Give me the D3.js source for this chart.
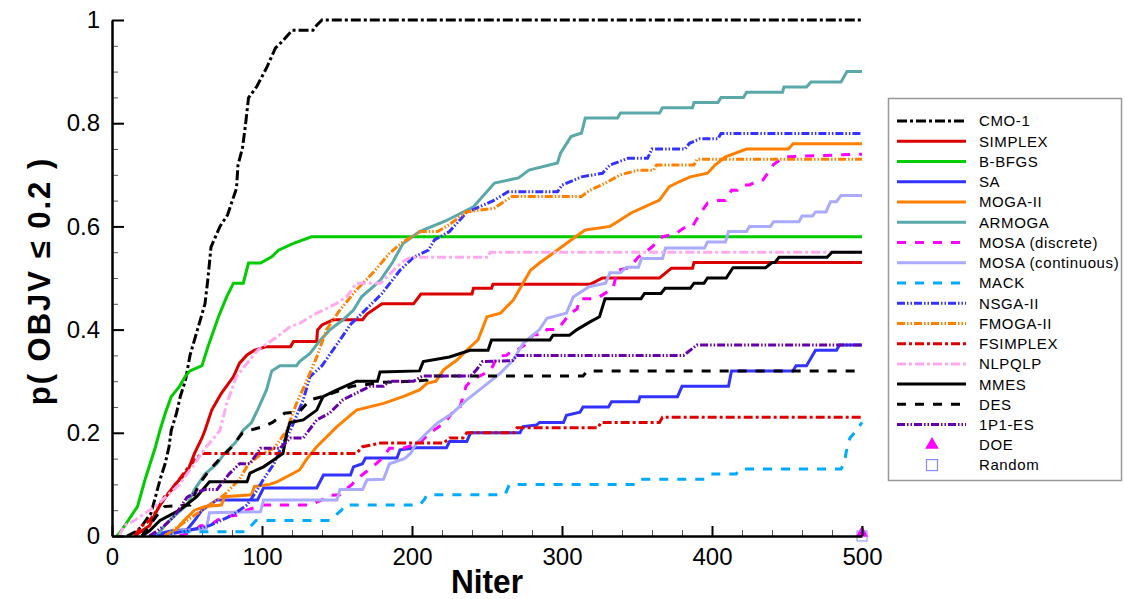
<!DOCTYPE html>
<html>
<head>
<meta charset="utf-8">
<script src="https://cdnjs.cloudflare.com/ajax/libs/d3/7.8.5/d3.min.js"></script>
<style>
  body { margin: 0; background: #fff; }
  svg { display: block; font-family: "Liberation Sans", Arial, sans-serif; }
</style>
</head>
<body>
<svg id="chart" width="1125" height="599"></svg>
<script>
// [Niter, p] breakpoints
const cmo1 = [[10,0],[17,0.01],[20,0.02],[26,0.044],[29,0.076],[32,0.109],[35.5,0.141],[38,0.173],[39.5,0.205],[43,0.238],[45.5,0.27],[49,0.302],[52,0.35],[57,0.4],[62,0.45],[64,0.5],[66,0.56],[72,0.6],[77,0.622],[83,0.674],[84,0.719],[87,0.752],[89,0.797],[91,0.849],[96.5,0.871],[103,0.907],[109,0.946],[113,0.957],[120,0.98],[134,0.98],[136.5,0.99],[140,1],[500,1]];
const simplex = [[15,0],[20,0.01],[25,0.02],[29,0.044],[32,0.06],[37,0.08],[42,0.1],[47,0.115],[51,0.13],[55,0.16],[60,0.19],[62,0.205],[66.5,0.244],[73,0.277],[81,0.309],[85,0.335],[90,0.351],[95,0.36],[103,0.367],[119,0.367],[121,0.377],[136.5,0.377],[137,0.399],[140,0.409],[147.5,0.419],[167,0.419],[170,0.43],[180,0.45],[201,0.45],[206,0.469],[240,0.469],[241,0.48],[253,0.48],[254,0.488],[319,0.488],[327,0.5],[365,0.5],[373,0.519],[387,0.519],[388,0.53],[500,0.53]];
const bbfgs = [[3,0],[5,0.005],[11,0.031],[17,0.057],[22,0.109],[25.5,0.141],[29,0.173],[32,0.205],[35.5,0.238],[39.5,0.27],[45,0.29],[49,0.31],[52,0.32],[60,0.33],[64,0.367],[71,0.425],[76.5,0.464],[81,0.49],[87.5,0.49],[91,0.529],[99,0.529],[106.5,0.541],[111,0.554],[121,0.567],[133,0.58],[500,0.58]];
const sa = [[25,0],[40,0.01],[50,0.012],[55,0.03],[60,0.05],[65,0.06],[70,0.07],[97,0.07],[101,0.093],[136.5,0.093],[141,0.118],[159,0.118],[161,0.134],[167,0.14],[169,0.151],[190,0.151],[192,0.167],[203,0.171],[223,0.171],[225,0.183],[236.5,0.183],[239,0.2],[272,0.2],[274,0.212],[283,0.215],[285,0.22],[301,0.22],[303,0.234],[312,0.24],[314,0.25],[331,0.25],[333,0.26],[351,0.26],[352,0.27],[377,0.27],[380,0.29],[411,0.29],[413,0.32],[454,0.32],[456,0.33],[463,0.33],[469,0.36],[483,0.36],[485,0.37],[500,0.37]];
const mogaII = [[35,0],[42,0.01],[48,0.03],[55,0.05],[62,0.057],[73,0.06],[75,0.076],[93,0.08],[95,0.096],[105,0.1],[110,0.105],[125,0.128],[130,0.15],[136.5,0.173],[150,0.212],[163,0.244],[181,0.257],[194,0.27],[205,0.283],[210,0.296],[216,0.3],[221,0.322],[230,0.341],[236.5,0.36],[244,0.38],[247.5,0.406],[250,0.425],[259,0.432],[267.5,0.457],[274,0.49],[279,0.515],[285,0.529],[294,0.548],[309,0.58],[315.5,0.593],[332,0.6],[337,0.609],[346,0.626],[355,0.638],[365,0.651],[371.5,0.677],[378.5,0.687],[385.5,0.696],[397,0.703],[402,0.719],[409,0.735],[423,0.75],[451,0.75],[454,0.76],[500,0.76]];
const armoga = [[30,0],[35,0.02],[42,0.04],[50,0.06],[55,0.09],[62,0.12],[70,0.14],[75,0.16],[82,0.18],[87.5,0.205],[93,0.22],[97,0.244],[103,0.283],[106.5,0.32],[112,0.33],[123,0.33],[125,0.338],[132,0.354],[139,0.38],[145,0.399],[154,0.419],[161,0.438],[166.5,0.464],[174,0.483],[179,0.496],[187,0.53],[194,0.567],[205,0.59],[222,0.61],[241,0.638],[255,0.684],[271,0.694],[278,0.709],[297,0.723],[299,0.742],[306,0.774],[313,0.781],[315.5,0.81],[337,0.81],[339,0.82],[365,0.82],[367,0.83],[387,0.83],[388,0.84],[404,0.84],[406,0.85],[421,0.85],[423,0.86],[447,0.86],[448,0.87],[463,0.87],[466,0.88],[486,0.88],[490,0.9],[500,0.9]];
const mosaDiscrete = [[45,0],[55,0.01],[59,0.02],[65,0.02],[70,0.03],[74,0.037],[83,0.04],[90,0.05],[100,0.06],[132,0.06],[140,0.07],[145,0.079],[152,0.08],[160,0.1],[163,0.11],[172,0.13],[180,0.15],[185,0.17],[194,0.17],[205,0.18],[212,0.2],[217,0.21],[222,0.22],[227,0.24],[232,0.25],[236,0.29],[239,0.3],[245,0.31],[252,0.32],[254,0.33],[256.7,0.349],[263,0.35],[267,0.36],[270,0.36],[275,0.37],[281,0.39],[287,0.39],[290,0.4],[297,0.4],[305,0.43],[310,0.44],[312,0.46],[323,0.46],[334,0.48],[337,0.515],[345,0.52],[350.7,0.54],[360,0.56],[365,0.575],[367,0.58],[375,0.585],[383,0.6],[387,0.6],[391,0.62],[397,0.645],[404,0.65],[409,0.65],[413,0.67],[417,0.67],[421,0.68],[425,0.68],[431,0.69],[434,0.69],[439,0.71],[441,0.72],[446,0.73],[449,0.735],[500,0.74]];
const mosaContinuous = [[40,0],[45,0.01],[63,0.015],[65,0.045],[99,0.047],[101,0.07],[150,0.07],[152,0.09],[167,0.09],[170,0.109],[181,0.11],[185,0.14],[195,0.15],[199,0.16],[203,0.18],[210,0.2],[217,0.219],[227,0.238],[236.5,0.264],[247.5,0.289],[258.7,0.315],[267.5,0.341],[274,0.373],[285,0.4],[290,0.422],[303,0.432],[307.5,0.463],[318,0.483],[329,0.49],[332,0.51],[339,0.51],[343,0.521],[351,0.521],[353,0.538],[367,0.538],[369,0.558],[395,0.558],[397,0.57],[409,0.57],[411,0.59],[423,0.59],[425,0.6],[439,0.6],[441,0.609],[458,0.609],[460,0.62],[467,0.62],[469,0.628],[476,0.628],[479,0.648],[483,0.648],[486,0.66],[500,0.66]];
const mack = [[35,0],[40,0.008],[89,0.008],[96,0.03],[145,0.03],[149,0.04],[153,0.05],[155,0.06],[205,0.06],[208,0.07],[210,0.08],[262,0.08],[265,0.1],[349,0.1],[352,0.11],[395,0.11],[399,0.12],[416,0.12],[419,0.13],[486,0.13],[488,0.14],[490,0.17],[492,0.19],[495,0.2],[500,0.22]];
const nsgaII = [[30,0],[50,0.01],[65,0.02],[80,0.04],[90,0.06],[97,0.09],[101,0.11],[108,0.14],[114,0.18],[119,0.205],[127.5,0.264],[132,0.309],[140,0.33],[145,0.351],[152,0.38],[159,0.41],[171,0.444],[180,0.47],[192,0.515],[201,0.54],[211,0.554],[215,0.574],[225,0.59],[236,0.626],[245,0.638],[255,0.651],[264,0.667],[297,0.667],[300,0.68],[313,0.696],[327,0.703],[332,0.719],[344,0.732],[357,0.732],[360,0.75],[382,0.75],[385,0.761],[392,0.77],[404,0.77],[406,0.78],[500,0.78]];
const fmogaII = [[35,0],[45,0.02],[55,0.04],[65,0.06],[75,0.08],[85,0.11],[91,0.14],[100,0.16],[108,0.17],[113,0.19],[116.5,0.205],[123,0.257],[130,0.302],[136.5,0.347],[143,0.4],[152,0.438],[163,0.477],[174,0.51],[185,0.548],[194,0.57],[206,0.59],[217,0.59],[224.7,0.603],[236,0.628],[254.7,0.635],[266.7,0.658],[313,0.658],[318,0.669],[329,0.684],[339,0.7],[351,0.709],[361,0.709],[363,0.719],[388,0.719],[390,0.73],[500,0.73]];
const fsimplex = [[15,0],[20,0.02],[25,0.03],[30,0.05],[35,0.076],[40,0.09],[45,0.11],[50,0.13],[56,0.15],[60,0.16],[163,0.16],[167,0.173],[179,0.18],[221,0.18],[225,0.19],[234,0.19],[236.5,0.2],[268,0.2],[270,0.21],[324,0.21],[326,0.22],[365,0.22],[367,0.23],[500,0.23]];
const nlpqlp = [[5,0],[8,0.02],[15,0.03],[30,0.06],[45,0.1],[55,0.14],[62,0.17],[68,0.19],[72,0.205],[76.5,0.257],[83,0.309],[97,0.36],[110,0.386],[119,0.406],[125,0.412],[134,0.428],[150,0.451],[156.5,0.464],[163,0.49],[179,0.49],[186,0.51],[193,0.53],[199,0.54],[251,0.54],[252,0.55],[500,0.55]];
const mmes = [[20,0],[25,0.01],[32,0.03],[45,0.05],[56.5,0.076],[65,0.105],[90,0.105],[92,0.122],[101,0.134],[107.5,0.147],[114,0.16],[116.5,0.2],[118.7,0.22],[127.5,0.225],[136.5,0.244],[140.7,0.27],[150,0.283],[163,0.3],[177,0.3],[178.7,0.318],[205,0.32],[207.5,0.338],[225,0.347],[238.7,0.36],[250.7,0.36],[253,0.38],[292,0.38],[294,0.389],[305,0.389],[310,0.4],[318.7,0.415],[325,0.425],[328.7,0.46],[352.7,0.46],[355,0.47],[366,0.47],[368.7,0.48],[385.5,0.48],[388,0.49],[394.7,0.49],[397,0.5],[409.5,0.5],[414,0.52],[435.7,0.52],[440,0.53],[442,0.53],[444.7,0.54],[476.7,0.54],[480,0.55],[500,0.55]];
const des = [[20,0],[25,0.02],[30,0.04],[35,0.057],[52,0.06],[58,0.1],[65,0.128],[72,0.15],[80,0.173],[87,0.2],[92,0.205],[101,0.212],[107,0.22],[115,0.238],[125,0.241],[132,0.264],[140,0.27],[147,0.277],[160,0.29],[181,0.298],[201,0.3],[210,0.302],[211,0.31],[314,0.31],[317,0.32],[500,0.32]];
const p1p1es = [[25,0],[30,0.01],[35,0.02],[42,0.04],[50,0.075],[55,0.083],[62,0.09],[70,0.09],[78,0.12],[85,0.14],[92,0.14],[99,0.17],[112,0.17],[119,0.19],[127.5,0.19],[136.5,0.225],[145,0.238],[154,0.264],[163,0.277],[172,0.29],[181,0.29],[185,0.3],[201,0.3],[207,0.31],[239,0.31],[243,0.322],[247,0.338],[267,0.34],[270,0.35],[381,0.35],[390,0.37],[500,0.37]];
const doePoints = [[500,0]];
const randomPoints = [[500,0]];

const niterTicks = [0,100,200,300,400,500];
const niterMinor = d3.range(0, 501, 20);
const pTicks = [0,0.2,0.4,0.6,0.8,1];
const pMinor = d3.range(0, 1.001, 0.05);

// styles per series, in legend / draw order
const series = [
  { name: "CMO-1", data: cmo1, color: "#000000", dash: "10,3,3,3" },
  { name: "SIMPLEX", data: simplex, color: "#dd0000", dash: null },
  { name: "B-BFGS", data: bbfgs, color: "#00cc00", dash: null },
  { name: "SA", data: sa, color: "#3333ff", dash: null },
  { name: "MOGA-II", data: mogaII, color: "#ff8000", dash: null },
  { name: "ARMOGA", data: armoga, color: "#5aa8a8", dash: null },
  { name: "MOSA (discrete)", data: mosaDiscrete, color: "#ff00ff", dash: "9,9" },
  { name: "MOSA (continuous)", data: mosaContinuous, color: "#aaaaff", dash: null },
  { name: "MACK", data: mack, color: "#00aaff", dash: "9,9" },
  { name: "NSGA-II", data: nsgaII, color: "#3333ff", dash: "8,2,1.5,2,1.5,2" },
  { name: "FMOGA-II", data: fmogaII, color: "#ff8000", dash: "8,2,1.5,2,1.5,2" },
  { name: "FSIMPLEX", data: fsimplex, color: "#dd0000", dash: "9,3,3,3" },
  { name: "NLPQLP", data: nlpqlp, color: "#ffaaee", dash: "9,3,3,3" },
  { name: "MMES", data: mmes, color: "#000000", dash: null },
  { name: "DES", data: des, color: "#000000", dash: "9,9" },
  { name: "1P1-ES", data: p1p1es, color: "#6600aa", dash: "8,2,1.5,2,1.5,2" }
];

const svg = d3.select("#chart");
const x = d3.scaleLinear().domain([0, 500]).range([112, 862]);
const y = d3.scaleLinear().domain([0, 1]).range([536, 20]);

// minor ticks
svg.append("g")
  .attr("transform", "translate(0,536)")
  .call(d3.axisBottom(x).tickValues(niterMinor).tickSize(-6).tickFormat(""))
  .call(g => g.select(".domain").remove())
  .selectAll("line").attr("stroke", "#555");
svg.append("g")
  .attr("transform", "translate(112,0)")
  .call(d3.axisLeft(y).tickValues(pMinor).tickSize(-6).tickFormat(""))
  .call(g => g.select(".domain").remove())
  .selectAll("line").attr("stroke", "#555");

// series lines
const line = d3.line().x(d => x(d[0])).y(d => y(d[1]));
const plot = svg.append("g");
series.forEach(s => {
  plot.append("path")
    .datum(s.data)
    .attr("fill", "none")
    .attr("stroke", s.color)
    .attr("stroke-width", 3)
    .attr("stroke-dasharray", s.dash)
    .attr("d", line);
});

// DOE and Random markers
plot.selectAll(".doe").data(doePoints).join("path")
  .attr("class", "doe")
  .attr("transform", d => `translate(${x(d[0])},${y(d[1]) - 3})`)
  .attr("d", d3.symbol(d3.symbolTriangle, 70))
  .attr("fill", "#ff00ff");
plot.selectAll(".rnd").data(randomPoints).join("rect")
  .attr("class", "rnd")
  .attr("x", d => x(d[0]) - 5).attr("y", d => y(d[1]) - 5)
  .attr("width", 10).attr("height", 10)
  .attr("fill", "none").attr("stroke", "#8888ff").attr("stroke-width", 1);

// major axes
const xAxis = svg.append("g")
  .attr("transform", "translate(0,536)")
  .call(d3.axisBottom(x).tickValues(niterTicks).tickSize(-10).tickSizeOuter(0).tickPadding(12));
const yAxis = svg.append("g")
  .attr("transform", "translate(112,0)")
  .call(d3.axisLeft(y).tickValues(pTicks).tickSize(-12).tickSizeOuter(0).tickPadding(12)
    .tickFormat(d => String(d)));
[xAxis, yAxis].forEach(g => {
  g.select(".domain").attr("stroke", "#000").attr("stroke-width", 2.5);
  g.selectAll(".tick line").attr("stroke", "#000").attr("stroke-width", 2);
  g.selectAll("text").attr("fill", "#000")
    .style("font-family", '"Liberation Sans", Arial, sans-serif')
    .style("font-size", "24px");
});
xAxis.selectAll("text").attr("dy", "0.72em");

// axis titles
svg.append("text")
  .attr("x", 487).attr("y", 593)
  .attr("text-anchor", "middle")
  .attr("textLength", 72).attr("lengthAdjust", "spacingAndGlyphs")
  .style("font-size", "33px").style("font-weight", "bold")
  .text("Niter");
svg.append("text")
  .attr("transform", "translate(50,281) rotate(-90)")
  .attr("text-anchor", "middle")
  .style("font-size", "31px").style("font-weight", "bold")
  .style("letter-spacing", "2px")
  .text("p( OBJV \u2264 0.2 )");

// legend
const legend = svg.append("g");
legend.append("rect")
  .attr("x", 888.5).attr("y", 98.5).attr("width", 233).attr("height", 382)
  .attr("fill", "#fff").attr("stroke", "#999").attr("stroke-width", 1.5);
const rowY = i => 121 + i * 20.24;
series.forEach((s, i) => {
  legend.append("line")
    .attr("x1", 897).attr("x2", 966)
    .attr("y1", rowY(i)).attr("y2", rowY(i))
    .attr("stroke", s.color).attr("stroke-width", 3)
    .attr("stroke-dasharray", s.dash);
  legend.append("text")
    .attr("x", 979).attr("y", rowY(i)).attr("dy", "0.36em")
    .style("font-size", "15px").style("letter-spacing", "0.6px")
    .text(s.name);
});
const doeY = rowY(16), rndY = rowY(17);
legend.append("path")
  .attr("transform", `translate(932,${doeY})`)
  .attr("d", d3.symbol(d3.symbolTriangle, 80))
  .attr("fill", "#ff00ff");
legend.append("text").attr("x", 979).attr("y", doeY).attr("dy", "0.36em")
  .style("font-size", "15px").style("letter-spacing", "0.6px").text("DOE");
legend.append("rect")
  .attr("x", 926.5).attr("y", rndY - 5.5).attr("width", 11).attr("height", 11)
  .attr("fill", "none").attr("stroke", "#8888ff").attr("stroke-width", 1.2);
legend.append("text").attr("x", 979).attr("y", rndY).attr("dy", "0.36em")
  .style("font-size", "15px").style("letter-spacing", "0.6px").text("Random");
</script>
</body>
</html>
